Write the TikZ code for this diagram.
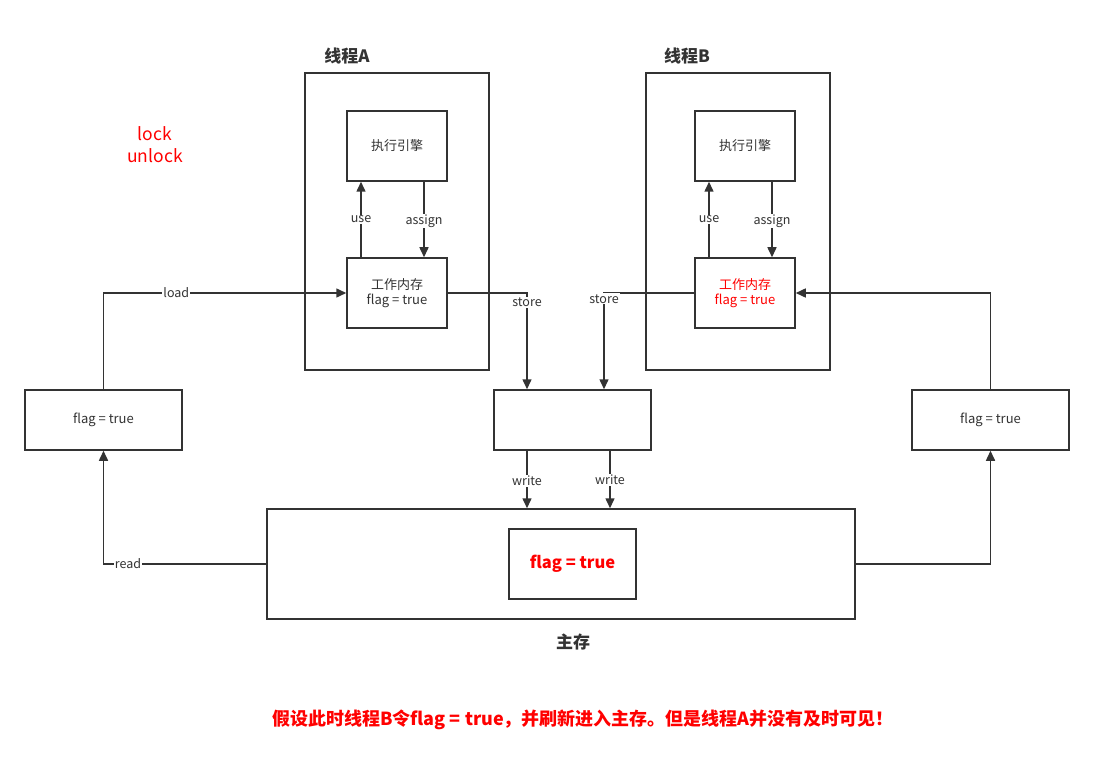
\documentclass[tikz,border=0pt]{standalone}
\usepackage{fontspec}
\setmainfont{Noto Sans CJK SC}
\usetikzlibrary{arrows.meta}
\definecolor{ln}{HTML}{333333}
\definecolor{rd}{HTML}{FF0000}
\begin{document}
\begin{tikzpicture}[x=1pt,y=-1pt,
  box/.style={draw=ln,line width=1.5pt,minimum width=#1,inner sep=0pt,text=ln,font=\fontsize{13}{15}\selectfont,align=center},
  arr/.style={draw=ln,line width=1.5pt,-{Triangle[length=10pt,width=9pt]}},
  lnk/.style={draw=ln,line width=1.5pt},
  lbl/.style={fill=white,text=ln,font=\fontsize{12.5}{14}\selectfont,inner sep=1pt},
  ttl/.style={text=ln,font=\bfseries\fontsize{17}{19}\selectfont}]
\useasboundingbox (0,0) rectangle (1094,767);
\fill[white] (0,0) rectangle (1094,767);
% thread A
\node[box=184pt,minimum height=297pt] (thA) at (397,221.5) {};
\node[ttl] (tA) at (347,56) {线程A};
\node[box=100pt,minimum height=70pt] (engA) at (397,146) {执行引擎};
\node[box=100pt,minimum height=70pt] (memA) at (397,293) {工作内存\\flag = true};
% thread B
\node[box=184pt,minimum height=297pt] (thB) at (738,221.5) {};
\node[ttl] (tB) at (687,56) {线程B};
\node[box=100pt,minimum height=70pt] (engB) at (745,146) {执行引擎};
\node[box=100pt,minimum height=70pt,text=rd] (memB) at (745,293) {工作内存\\flag = true};
% side and middle boxes
\node[box=157pt,minimum height=60pt] (lbox) at (103.5,420) {flag = true};
\node[box=157pt,minimum height=60pt] (mbox) at (572.5,420) {};
\node[box=157pt,minimum height=60pt] (rbox) at (990.5,420) {flag = true};
% main memory
\node[box=588pt,minimum height=110pt] (main) at (561,564) {};
\node[box=127pt,minimum height=70pt,text=rd,font=\bfseries\fontsize{16.5}{18}\selectfont] (mflag) at (572.5,564) {flag = true};
\node[ttl] (tmain) at (573,642) {主存};
% lock text
\node[text=rd,font=\fontsize{17.5}{22.5}\selectfont,align=center] (lk) at (155,144.5) {lock\\unlock};
% bottom note
\node[text=rd,font=\bfseries\fontsize{18}{20}\selectfont] (note) at (583,720) {假设此时线程B令flag = true，并刷新进入主存。但是线程A并没有及时可见！};
% thread A inner arrows
\draw[arr] ([xshift=-36pt]memA.north) -- ([xshift=-36pt]engA.south) node[lbl,midway] {use};
\draw[arr] ([xshift=27pt]engA.south) -- ([xshift=27pt]memA.north) node[lbl,pos=0.52] {assign};
% thread B inner arrows
\draw[arr] ([xshift=-36pt]memB.north) -- ([xshift=-36pt]engB.south) node[lbl,midway] {use};
\draw[arr] ([xshift=27pt]engB.south) -- ([xshift=27pt]memB.north) node[lbl,pos=0.52] {assign};
% load / read
\draw[arr] (lbox.north) |- (memA.west) node[lbl,pos=0.65] {load};
\draw[arr] (main.west) -| (lbox.south) node[lbl,pos=0.425] {read};
% right side
\draw[arr] (main.east) -| (rbox.south);
\draw[arr] (rbox.north) |- (memB.east);
% store
\coordinate (sA) at ([xshift=-45.5pt]mbox.north);
\coordinate (sB) at ([xshift=31.5pt]mbox.north);
\draw[arr] (memA.east) -| (sA) node[lbl,pos=0.55] {store};
\draw[arr] (memB.west) -| (sB) node[lbl,pos=0.53] {store};
% write
\coordinate (w1) at ([xshift=-45.5pt]mbox.south);
\coordinate (w2) at ([xshift=37.5pt]mbox.south);
\draw[arr] (w1) -- (w1 |- main.north) node[lbl,pos=0.53] {write};
\draw[arr] (w2) -- (w2 |- main.north) node[lbl,pos=0.51] {write};
\end{tikzpicture}
\end{document}
